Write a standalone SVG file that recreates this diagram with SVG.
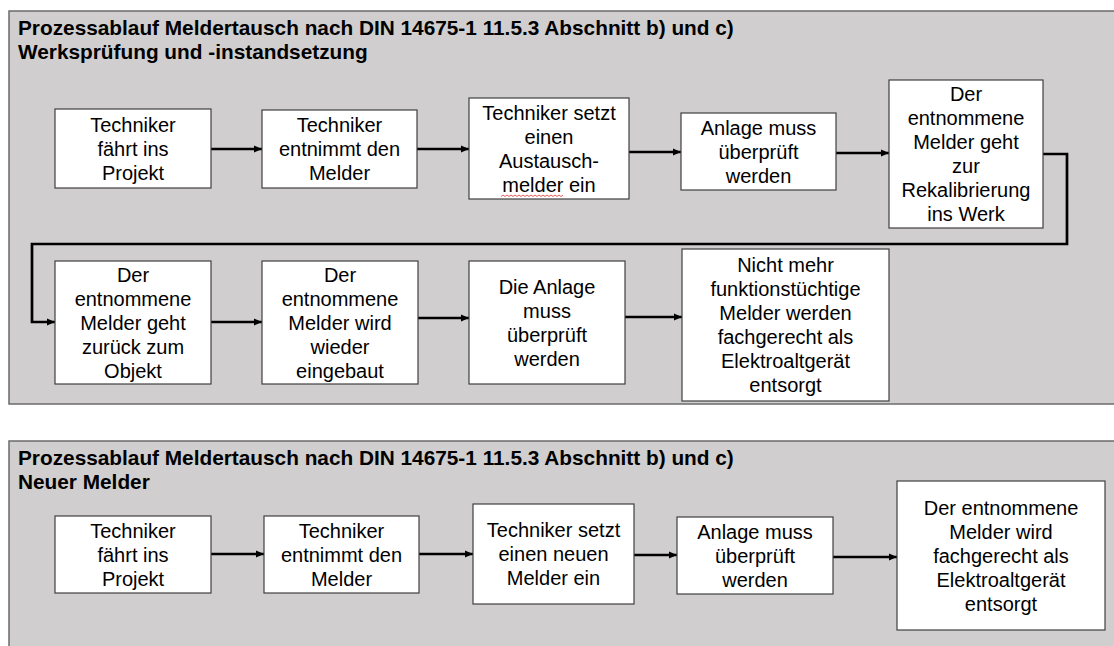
<svg xmlns="http://www.w3.org/2000/svg" width="1114" height="646" viewBox="0 0 1114 646">
<style>
  .panel { fill: #D0CECE; stroke: #6B6B6B; stroke-width: 1.5; }
  .box { fill: #FFFFFF; stroke: #404040; stroke-width: 1.2; }
  .t { font-family: "Liberation Sans", Arial, sans-serif; font-size: 20px; fill: #000; text-anchor: middle; }
  .title { font-family: "Liberation Sans", Arial, sans-serif; font-size: 20.8px; font-weight: bold; fill: #000; }
  .c { fill: none; stroke: #000; stroke-width: 2.7; marker-end: url(#arr); }
</style>
<defs>
  <marker id="arr" markerUnits="userSpaceOnUse" markerWidth="9" markerHeight="8" refX="8" refY="4" orient="auto">
    <path d="M0,0.5 L8,4 L0,7.5 z" fill="#000"/>
  </marker>
</defs>
<rect x="0" y="0" width="1114" height="646" fill="#FFFFFF"/>

<g id="panel1">
  <rect class="panel" x="9" y="11" width="1120" height="393"/>
  <text class="title" x="18" y="35">Prozessablauf Meldertausch nach DIN 14675-1 11.5.3 Abschnitt b) und c)</text>
  <text class="title" x="18" y="59">Werksprüfung und -instandsetzung</text>
</g>

<g id="panel2">
  <rect class="panel" x="9" y="441" width="1120" height="220"/>
  <text class="title" x="18" y="465">Prozessablauf Meldertausch nach DIN 14675-1 11.5.3 Abschnitt b) und c)</text>
  <text class="title" x="18" y="489">Neuer Melder</text>
</g>

<g id="connectors">
  <path class="c" d="M211,149 H262"/>
  <path class="c" d="M417,149 H469"/>
  <path class="c" d="M629,152 H681"/>
  <path class="c" d="M836,153 H889"/>
  <path class="c" d="M1043,154 H1067 V244 H32 V322 H55"/>
  <path class="c" d="M211,322 H262"/>
  <path class="c" d="M418,318 H469"/>
  <path class="c" d="M625,317 H682"/>
  <path class="c" d="M211,554 H264"/>
  <path class="c" d="M419,554 H473"/>
  <path class="c" d="M634,555 H677"/>
  <path class="c" d="M833,557 H897"/>
</g>

<g id="n1">
  <rect class="box" x="55" y="109" width="156" height="79"/>
  <text class="t" x="133" y="131.5">Techniker</text>
  <text class="t" x="133" y="155.5">fährt ins</text>
  <text class="t" x="133" y="179.5">Projekt</text>
</g>
<g id="n2">
  <rect class="box" x="262" y="110" width="155" height="78"/>
  <text class="t" x="339.5" y="132">Techniker</text>
  <text class="t" x="339.5" y="156">entnimmt den</text>
  <text class="t" x="339.5" y="180">Melder</text>
</g>
<g id="n3">
  <rect class="box" x="469" y="98" width="160" height="101"/>
  <text class="t" x="549" y="119.5">Techniker setzt</text>
  <text class="t" x="549" y="143.5">einen</text>
  <text class="t" x="549" y="167.5">Austausch-</text>
  <text class="t" x="549" y="191.5">melder ein</text>
  <path d="M501,196.5 l2,-1.5 l2,1.5 l2,-1.5 l2,1.5 l2,-1.5 l2,1.5 l2,-1.5 l2,1.5 l2,-1.5 l2,1.5 l2,-1.5 l2,1.5 l2,-1.5 l2,1.5 l2,-1.5 l2,1.5 l2,-1.5 l2,1.5 l2,-1.5 l2,1.5 l2,-1.5 l2,1.5 l2,-1.5 l2,1.5 l2,-1.5 l2,1.5 l2,-1.5 l2,1.5 l2,-1.5 l2,1.5 l2,-1.5" fill="none" stroke="#E03030" stroke-width="0.8"/>
</g>
<g id="n4">
  <rect class="box" x="681" y="113" width="155" height="77"/>
  <text class="t" x="758.5" y="134.5">Anlage muss</text>
  <text class="t" x="758.5" y="158.5">überprüft</text>
  <text class="t" x="758.5" y="182.5">werden</text>
</g>
<g id="n5">
  <rect class="box" x="889" y="80" width="154" height="148"/>
  <text class="t" x="966" y="101">Der</text>
  <text class="t" x="966" y="125">entnommene</text>
  <text class="t" x="966" y="149">Melder geht</text>
  <text class="t" x="966" y="173">zur</text>
  <text class="t" x="966" y="197">Rekalibrierung</text>
  <text class="t" x="966" y="221">ins Werk</text>
</g>
<g id="n6">
  <rect class="box" x="55" y="261" width="156" height="123"/>
  <text class="t" x="133" y="281.5">Der</text>
  <text class="t" x="133" y="305.5">entnommene</text>
  <text class="t" x="133" y="329.5">Melder geht</text>
  <text class="t" x="133" y="353.5">zurück zum</text>
  <text class="t" x="133" y="377.5">Objekt</text>
</g>
<g id="n7">
  <rect class="box" x="262" y="261" width="156" height="123"/>
  <text class="t" x="340" y="281.5">Der</text>
  <text class="t" x="340" y="305.5">entnommene</text>
  <text class="t" x="340" y="329.5">Melder wird</text>
  <text class="t" x="340" y="353.5">wieder</text>
  <text class="t" x="340" y="377.5">eingebaut</text>
</g>
<g id="n8">
  <rect class="box" x="469" y="261" width="156" height="123"/>
  <text class="t" x="547" y="293.5">Die Anlage</text>
  <text class="t" x="547" y="317.5">muss</text>
  <text class="t" x="547" y="341.5">überprüft</text>
  <text class="t" x="547" y="365.5">werden</text>
</g>
<g id="n9">
  <rect class="box" x="682" y="249" width="207" height="152"/>
  <text class="t" x="785.5" y="272">Nicht mehr</text>
  <text class="t" x="785.5" y="296">funktionstüchtige</text>
  <text class="t" x="785.5" y="320">Melder werden</text>
  <text class="t" x="785.5" y="344">fachgerecht als</text>
  <text class="t" x="785.5" y="368">Elektroaltgerät</text>
  <text class="t" x="785.5" y="392">entsorgt</text>
</g>

<g id="m1">
  <rect class="box" x="55" y="516" width="156" height="77"/>
  <text class="t" x="133" y="537.5">Techniker</text>
  <text class="t" x="133" y="561.5">fährt ins</text>
  <text class="t" x="133" y="585.5">Projekt</text>
</g>
<g id="m2">
  <rect class="box" x="264" y="516" width="155" height="77"/>
  <text class="t" x="341.5" y="537.5">Techniker</text>
  <text class="t" x="341.5" y="561.5">entnimmt den</text>
  <text class="t" x="341.5" y="585.5">Melder</text>
</g>
<g id="m3">
  <rect class="box" x="473" y="504" width="161" height="100"/>
  <text class="t" x="553.5" y="537">Techniker setzt</text>
  <text class="t" x="553.5" y="561">einen neuen</text>
  <text class="t" x="553.5" y="585">Melder ein</text>
</g>
<g id="m4">
  <rect class="box" x="677" y="517" width="156" height="77"/>
  <text class="t" x="755" y="538.5">Anlage muss</text>
  <text class="t" x="755" y="562.5">überprüft</text>
  <text class="t" x="755" y="586.5">werden</text>
</g>
<g id="m5">
  <rect class="box" x="897" y="481" width="208" height="149"/>
  <text class="t" x="1001" y="514.5">Der entnommene</text>
  <text class="t" x="1001" y="538.5">Melder wird</text>
  <text class="t" x="1001" y="562.5">fachgerecht als</text>
  <text class="t" x="1001" y="586.5">Elektroaltgerät</text>
  <text class="t" x="1001" y="610.5">entsorgt</text>
</g>
</svg>
